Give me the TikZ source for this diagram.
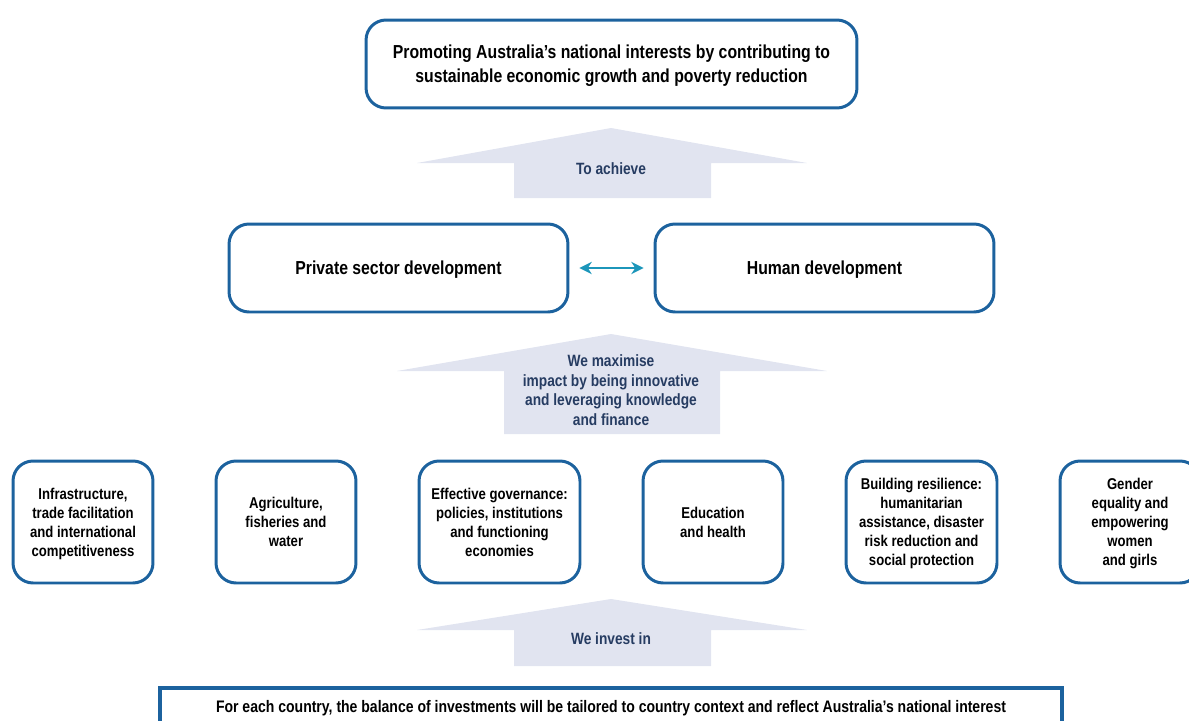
\documentclass[tikz,border=0pt]{standalone}
\usepackage{fontspec}
\setmainfont[FakeStretch=0.84]{Liberation Sans}
\usetikzlibrary{arrows.meta}

\definecolor{boxblue}{RGB}{28,98,158}
\definecolor{arrowfill}{RGB}{225,228,240}
\definecolor{navytext}{RGB}{38,60,98}
\definecolor{linkteal}{RGB}{28,150,186}

\tikzset{
	goalbox/.style={draw=boxblue, line width=1.7pt, rounded corners=0.4cm, align=center,
		text depth=-1.2pt, font=\bfseries\fontsize{10.7}{13.6}\selectfont},
	areabox/.style={draw=boxblue, line width=1.7pt, rounded corners=0.4cm, align=center,
		minimum width=2.8cm, minimum height=2.44cm, inner sep=2pt, text depth=-1pt,
		font=\bfseries\fontsize{8.9}{10.8}\selectfont},
	arrowtext/.style={text=navytext, align=center, font=\bfseries\fontsize{9.3}{11.2}\selectfont},
	blockarrow/.style={fill=arrowfill}
}

\begin{document}
\begin{tikzpicture}[x=0.02cm, y=-0.02cm]
	\useasboundingbox (0,0) rectangle (1189,720);
	
	%%%%% TOP %%%%%
	\node[goalbox, minimum width=9.82cm, minimum height=1.76cm] (goal) at (611.5,64)
		{Promoting Australia’s national interests by contributing to\\sustainable economic growth and poverty reduction};
	
	\fill[blockarrow] (514,198) -- (514,163) -- (417,163) -- (611,128) -- (807,163) -- (711,163) -- (711,198) -- cycle;
	\node[arrowtext] (achieve) at (611,169) {To achieve};
	
	%%%%% MIDDLE %%%%%
	\node[goalbox, minimum width=6.78cm, minimum height=1.76cm] (private) at (398.5,268) {Private sector development};
	\node[goalbox, minimum width=6.78cm, minimum height=1.76cm] (human) at (824.5,268) {Human development};
	\draw[linkteal, line width=1.2pt, {Stealth[length=7pt,width=7pt]}-{Stealth[length=7pt,width=7pt]}]
		([xshift=0.2cm]private.east) -- ([xshift=-0.2cm]human.west);
	
	\fill[blockarrow] (504,434) -- (504,371) -- (397,371) -- (611,334) -- (827,371) -- (720,371) -- (720,434) -- cycle;
	\node[arrowtext] (maximise) at (611,390)
		{We maximise\\impact by being innovative\\and leveraging knowledge\\and finance};
	
	%%%%% INVESTMENT AREAS %%%%%
	\node[areabox] (infra) at (83,522) {Infrastructure,\\trade facilitation\\and international\\competitiveness};
	\node[areabox] (agri) at (286,522) {Agriculture,\\fisheries and\\water};
	\node[areabox, minimum width=3.22cm] (gov) at (499.5,522) {Effective governance:\\policies, institutions\\and functioning\\economies};
	\node[areabox] (edu) at (713,522) {Education\\and health};
	\node[areabox, minimum width=3.02cm] (resil) at (921.5,522) {Building resilience:\\humanitarian\\assistance, disaster\\risk reduction and\\social protection};
	\node[areabox] (gender) at (1130,522) {Gender\\equality and\\empowering\\women\\and girls};
	
	\fill[blockarrow] (514,666) -- (514,630) -- (417,630) -- (611,599) -- (807,630) -- (711,630) -- (711,666) -- cycle;
	\node[arrowtext] (invest) at (611,639) {We invest in};
	
	%%%%% BASE %%%%%
	\draw[boxblue, line width=2.6pt] (160,760) -- (160,688) -- (1062,688) -- (1062,760);
	\node[font=\bfseries\fontsize{9.5}{10}\selectfont] (balance) at (611,708)
		{For each country, the balance of investments will be tailored to country context and reflect Australia’s national interest};
\end{tikzpicture}
\end{document}
